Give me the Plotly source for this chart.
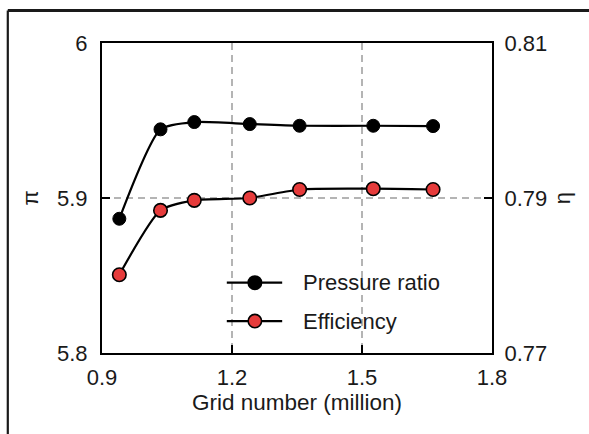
import plotly.graph_objects as go

# Grid independence study: pressure ratio and efficiency vs. mesh size
grid_million = [0.94, 1.035, 1.113, 1.241, 1.356, 1.526, 1.664]
pressure_ratio = [5.8866, 5.9443, 5.9490, 5.9477, 5.9466, 5.9466, 5.9464]
efficiency = [0.7801, 0.7884, 0.7897, 0.7900, 0.7911, 0.7912, 0.7911]

x_ticks = [0.9, 1.2, 1.5, 1.8]
pi_ticks = [5.8, 5.9, 6.0]
pi_labels = ["5.8", "5.9", "6"]
eta_ticks = [0.77, 0.79, 0.81]
eta_labels = ["0.77", "0.79", "0.81"]

FONT = "Liberation Sans, Arial, sans-serif"
RED = "#e63b3b"
GRID = "#b4b4b4"
TXT = "#1a1a1a"

fig = go.Figure()

fig.add_trace(go.Scatter(
    x=grid_million, y=pressure_ratio, name="Pressure ratio",
    mode="lines+markers", line=dict(color="black", width=2.2, shape="spline", smoothing=0.6),
    marker=dict(color="black", size=13, line=dict(color="black", width=1)),
    yaxis="y", showlegend=False,
))
fig.add_trace(go.Scatter(
    x=grid_million, y=efficiency, name="Efficiency",
    mode="lines+markers", line=dict(color="black", width=2.2, shape="spline", smoothing=0.6),
    marker=dict(color=RED, size=13.5, line=dict(color="black", width=1.6)),
    yaxis="y2", showlegend=False,
))

axis_common = dict(
    showline=True, linecolor="black", linewidth=2,
    ticks="inside", ticklen=8, tickwidth=2, tickcolor="black",
    tickfont=dict(family=FONT, size=22, color=TXT),
    showgrid=True, gridcolor=GRID, gridwidth=2, griddash="7px,5px",
    zeroline=False,
)

fig.update_layout(
    width=589, height=434,
    margin=dict(l=102, r=97, t=43, b=81),
    paper_bgcolor="white", plot_bgcolor="white",
    font=dict(family=FONT, color=TXT),
    xaxis=dict(
        range=[0.9, 1.8], tickvals=x_ticks, ticktext=[f"{v:.1f}" for v in x_ticks],
        mirror=True, ticklabelstandoff=4,
        title=dict(text="Grid number (million)", font=dict(family=FONT, size=22.5), standoff=0),
        **axis_common,
    ),
    yaxis=dict(
        range=[5.8, 6.0], tickvals=pi_ticks, ticktext=pi_labels,
        ticklabelstandoff=8,
        title=dict(text="π", font=dict(family=FONT, size=22), standoff=12),
        **axis_common,
    ),
    yaxis2=dict(
        range=[0.77, 0.81], tickvals=eta_ticks, ticktext=eta_labels,
        overlaying="y", side="right", ticklabelstandoff=6,
        title=dict(text="η", font=dict(family=FONT, size=22), standoff=8),
        **{**axis_common, "showgrid": False},
    ),
)

# Hand-drawn legend with longer line samples
legend_rows = [("Pressure ratio", "black", 0.227), ("Efficiency", RED, 0.103)]
for label, fill, yp in legend_rows:
    fig.add_shape(type="line", xref="paper", yref="paper",
                  x0=0.32, x1=0.462, y0=yp, y1=yp,
                  line=dict(color="black", width=2.2))
    fig.add_shape(type="circle", xref="paper", yref="paper",
                  xsizemode="pixel", ysizemode="pixel",
                  xanchor=0.392, yanchor=yp, x0=-6.7, x1=6.7, y0=-6.7, y1=6.7,
                  fillcolor=fill, line=dict(color="black", width=1.6))
    fig.add_annotation(text=label, xref="paper", yref="paper",
                       x=0.51, y=yp, xanchor="left", yanchor="middle",
                       showarrow=False, font=dict(family=FONT, size=22, color=TXT))

# Outer frame edges (top and left) around the figure
frame_left = (7.8 - 102) / 390
frame_top = (353 - 10.5) / 310
fig.add_shape(type="line", xref="paper", yref="paper",
              x0=frame_left, x1=(589 - 102) / 390, y0=frame_top, y1=frame_top,
              line=dict(color=TXT, width=3), layer="above")
fig.add_shape(type="line", xref="paper", yref="paper",
              x0=frame_left, x1=frame_left, y0=frame_top, y1=(353 - 434) / 310,
              line=dict(color=TXT, width=2.2), layer="above")

fig.write_html("out.html", config={"displayModeBar": False})
